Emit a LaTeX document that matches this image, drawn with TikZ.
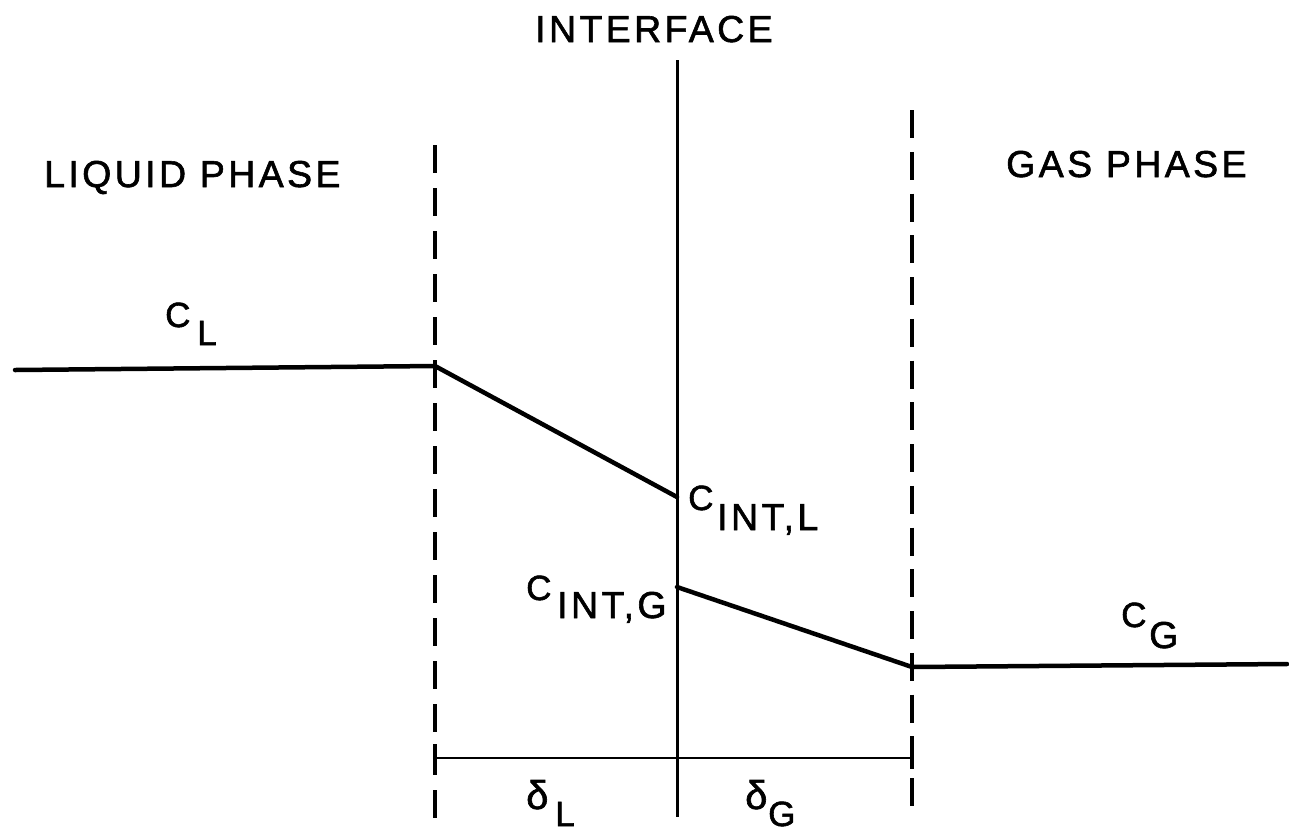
\documentclass[tikz,border=0pt]{standalone}
\usepackage{fontspec}
\setmainfont{Liberation Sans}[LetterSpace=9, FakeBold=1.6]
\begin{document}
\begin{tikzpicture}[x=1pt,y=-1pt]
\tikzset{
  conc/.style={line width=4.5pt, line cap=round, line join=round},
  iface/.style={line width=3pt},
  dashL/.style={line width=3.5pt, dash pattern=on 28pt off 15pt},
  dashG/.style={line width=3.5pt, dash pattern=on 28pt off 13.75pt},
  dimline/.style={line width=2pt},
  tick/.style={line width=3.5pt},
  head/.style={inner sep=0pt, anchor=base west, font=\fontsize{37.5}{40}\selectfont},
  clbl/.style={inner sep=0pt, anchor=base west, font=\fontsize{35}{38}\selectfont},
  sublbl/.style={inner sep=0pt, anchor=base west, font=\fontsize{37.5}{40}\selectfont},
  dlbl/.style={inner sep=0pt, anchor=base west, font=\fontsize{40}{42}\selectfont},
}
\useasboundingbox (0,0) rectangle (1289,831);
% boundary lines
\coordinate (lTop) at (435,145);
\coordinate (lBot) at (435,818);
\coordinate (gTop) at (912,110);
\coordinate (gBot) at (912,808);
\coordinate (iTop) at (677,60);
\coordinate (iBot) at (677,817);
\draw[dashL] (lTop) -- (lBot);
\draw[dashG] (gTop) -- (gBot);
\draw[iface] (iTop) -- (iBot);
% concentration profile
\coordinate (cl0) at (15,370);
\coordinate (cl1) at (435,366);
\coordinate (cil) at (677,497);
\coordinate (cig) at (677,587);
\coordinate (cg0) at (912,667);
\coordinate (cg1) at (1287,664);
\draw[conc] (cl0) -- (cl1) -- (cil);
\draw[conc] (cig) -- (cg0) -- (cg1);
% dimension line
\coordinate (dL) at (435,758);
\coordinate (dG) at (912,758);
\coordinate (dLt) at (435,744);
\coordinate (dLb) at (435,771);
\coordinate (dGt) at (912,742);
\coordinate (dGb) at (912,769);
\draw[dimline] (dL) -- (dG);
\draw[tick] (dLt) -- (dLb);
\draw[tick] (dGt) -- (dGb);
% headings
\node[head] (interface) at (535,42) {INTERFACE};
\node[head] (liquid) at (44,187) {LIQUID PHASE};
\node[head] (gas) at (1006,177) {GAS PHASE};
% concentration labels
\node[clbl] (cL) at (165,327) {C};
\node[clbl] (cLs) at (197,345) {L};
\node[clbl] (cIL) at (688,510) {C};
\node[sublbl] (cILs) at (717,530) {INT,L};
\node[clbl] (cIG) at (526,600) {C};
\node[sublbl] (cIGs) at (557,618) {INT,G};
\node[clbl] (cG) at (1121,627) {C};
\node[sublbl] (cGs) at (1149,648) {G};
% film thickness labels
\node[dlbl] (dlL) at (526,809) {δ};
\node[clbl] (dlLs) at (555,826) {L};
\node[dlbl] (dlG) at (745,809) {δ};
\node[clbl] (dlGs) at (768,826) {G};
\end{tikzpicture}
\end{document}
